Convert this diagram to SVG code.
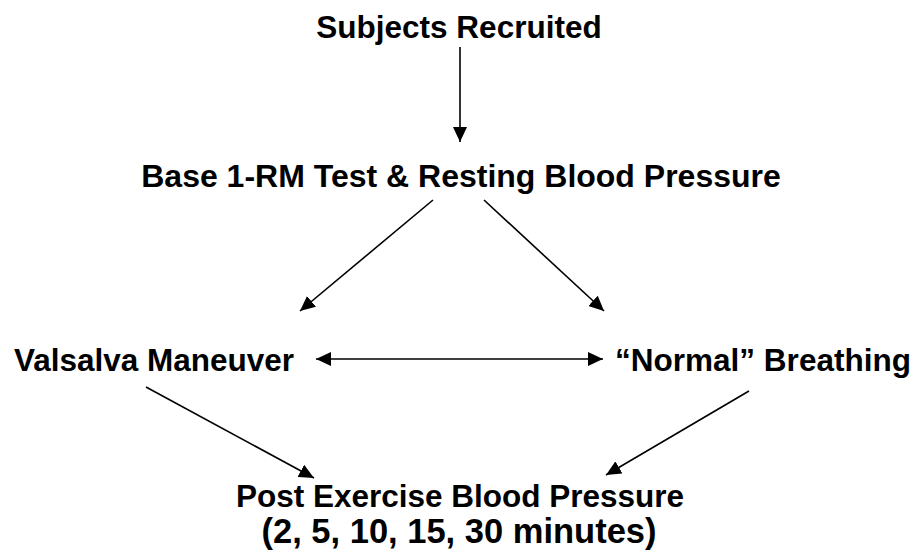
<svg xmlns="http://www.w3.org/2000/svg" width="917" height="559" viewBox="0 0 917 559">
<style>
text{font-family:"Liberation Sans",Arial,sans-serif;font-weight:bold;font-size:31.5px;fill:#000;text-anchor:middle}
.c line{stroke:#000;stroke-width:1.6}
</style>
<defs>
<marker id="ah" viewBox="0 0 15 14" refX="15" refY="7" markerWidth="15" markerHeight="14" markerUnits="userSpaceOnUse" orient="auto-start-reverse">
<path d="M0,0 L15,7 L0,14 z" fill="#000"/>
</marker>
</defs>
<rect width="917" height="559" fill="#fff"/>
<g id="subjects"><text x="459" y="38">Subjects Recruited</text></g>
<g id="base"><text x="461" y="187" style="font-size:32px">Base 1-RM Test &amp; Resting Blood Pressure</text></g>
<g id="valsalva"><text x="154" y="371">Valsalva Maneuver</text></g>
<g id="normal"><text x="763" y="371">“Normal” Breathing</text></g>
<g id="post"><text x="460" y="507">Post Exercise Blood Pressure</text><text x="459" y="543" style="font-size:34.5px">(2, 5, 10, 15, 30 minutes)</text></g>
<g class="c" id="connectors">
<line x1="460" y1="47" x2="460" y2="142" marker-end="url(#ah)"/>
<line x1="433" y1="200" x2="300" y2="311" marker-end="url(#ah)"/>
<line x1="484" y1="200" x2="604" y2="311" marker-end="url(#ah)"/>
<line x1="316" y1="359" x2="603" y2="359" marker-start="url(#ah)" marker-end="url(#ah)"/>
<line x1="146" y1="387" x2="314" y2="478" marker-end="url(#ah)"/>
<line x1="749" y1="391" x2="606" y2="475" marker-end="url(#ah)"/>
</g>
</svg>
